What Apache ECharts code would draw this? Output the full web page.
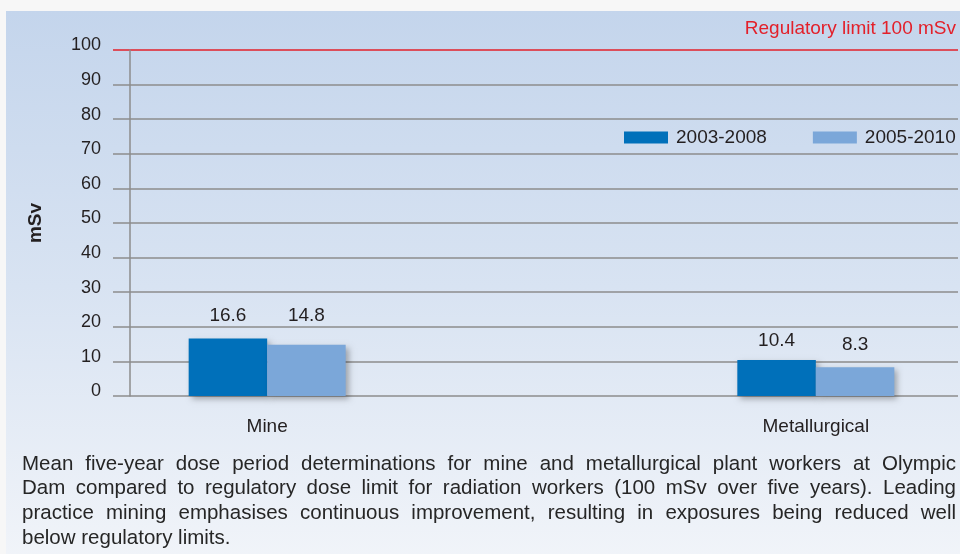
<!DOCTYPE html>
<html><head><meta charset="utf-8">
<script src="https://cdn.jsdelivr.net/npm/echarts@6/dist/echarts.min.js"></script>
<style>html,body{margin:0;padding:0;background:#fff}#c{width:960px;height:554px}</style>
</head><body><div id="c"></div>
<script>
const categories = ['Mine', 'Metallurgical'];
const axisSlots = ['Mine', '', 'Metallurgical'];
const seriesNames = ['2003-2008', '2005-2010'];
const values2003_2008 = [16.6, 10.4];
const values2005_2010 = [14.8, 8.3];
const yTicks = { min: 0, max: 100, interval: 10 };
const regulatoryLimit = 100;
const limitLabel = 'Regulatory limit 100 mSv';
const yAxisName = 'mSv';
const captionLines = [
  'Mean five-year dose period determinations for mine and metallurgical plant workers at Olympic',
  'Dam compared to regulatory dose limit for radiation workers (100 mSv over five years). Leading',
  'practice mining emphasises continuous improvement, resulting in exposures being reduced well',
  'below regulatory limits.'
];

const chart = echarts.init(document.getElementById('c'), null, {renderer: 'canvas'});
const nLines = (yTicks.max - yTicks.min) / yTicks.interval + 1;
const gridColors = [];
for (let i = 0; i < nLines; i++) {
  const v = yTicks.min + i * yTicks.interval;
  gridColors.push(v === regulatoryLimit ? '#e3202a' : '#8d8d8d');
}
const font = 'Liberation Sans, Arial, sans-serif';
const txt = '#231f20';

// label vertical nudges (style only), per series per category
const labelNudge = [[0, 3], [-7, 0]];

function slotData(vals, si) {
  return axisSlots.map(s => {
    const i = categories.indexOf(s);
    if (i < 0) return null;
    return {value: vals[i], label: {offset: [0, labelNudge[si][i]]}};
  });
}

// justified caption
const capFontSize = 20.5;
const capFont = capFontSize + 'px "Liberation Sans"';
const capLeft = 22, capRight = 956, capTop = 464, capLH = 24.8;
const ctx = document.createElement('canvas').getContext('2d');
ctx.font = capFont;
const captionEls = [];
captionLines.forEach((line, li) => {
  const y = capTop + li * capLH;
  const words = line.split(' ');
  const last = li === captionLines.length - 1;
  const widths = words.map(w => ctx.measureText(w).width);
  const spaceW = ctx.measureText(' ').width;
  const total = widths.reduce((a, b) => a + b, 0);
  const gap = last ? spaceW : (capRight - capLeft - total) / (words.length - 1);
  let x = capLeft;
  words.forEach((w, wi) => {
    captionEls.push({type: 'text', x: x, y: y, silent: true,
      style: {text: w, font: capFont, fill: '#262626', verticalAlign: 'middle', align: 'left'}});
    x += widths[wi] + gap;
  });
});

chart.setOption({
  backgroundColor: '#f7f7f7',
  animation: false,
  graphic: [{
    type: 'rect', left: 6, top: 11, z: -10,
    shape: {width: 960, height: 550},
    style: {fill: new echarts.graphic.LinearGradient(0, 0, 0, 1, [
      {offset: 0, color: '#c4d5ec'}, {offset: 0.5, color: '#d8e3f2'}, {offset: 1, color: '#f1f4f9'}])}
  }].concat(captionEls),
  title: [{
    text: limitLabel, right: 4, top: 19, padding: 0,
    textStyle: {color: '#e3202a', fontFamily: font, fontSize: 19, fontWeight: 'normal'}
  }],
  legend: {
    data: seriesNames, left: 624, top: 128, padding: 0, width: 336, orient: 'horizontal',
    icon: 'rect', itemWidth: 44, itemHeight: 12, itemGap: 46,
    textStyle: {color: txt, fontFamily: font, fontSize: 19, padding: [0, 0, 0, 3]}
  },
  grid: [
    {left: 113, right: 2, top: 50, bottom: 158},
    {left: 130, right: 7, top: 50, bottom: 158}
  ],
  xAxis: [
    {gridIndex: 0, type: 'category', data: axisSlots, show: false},
    {gridIndex: 1, type: 'category', data: axisSlots,
     axisLine: {show: false}, axisTick: {show: false},
     axisLabel: {color: txt, fontFamily: font, fontSize: 19, margin: 21}}
  ],
  yAxis: [
    {gridIndex: 0, type: 'value', min: yTicks.min, max: yTicks.max, interval: yTicks.interval,
     offset: -17,
     name: yAxisName, nameLocation: 'middle', nameRotate: 90, nameGap: 85,
     nameTextStyle: {color: txt, fontFamily: font, fontSize: 19, fontWeight: 'bold'},
     axisLine: {show: true, lineStyle: {color: '#8d8d8d', width: 1.5}},
     axisTick: {show: false},
     axisLabel: {color: txt, fontFamily: font, fontSize: 18, margin: 29, verticalAlign: 'bottom', lineHeight: 9},
     splitLine: {show: true, lineStyle: {color: gridColors, width: 1.6}}},
    {gridIndex: 1, type: 'value', min: yTicks.min, max: yTicks.max, interval: yTicks.interval, show: false}
  ],
  series: [
    {name: seriesNames[0], type: 'bar', xAxisIndex: 1, yAxisIndex: 1, data: slotData(values2003_2008, 0),
     barWidth: 78.5, barGap: '0%',
     itemStyle: {color: '#0070ba', shadowBlur: 6, shadowOffsetX: 3, shadowOffsetY: 3, shadowColor: 'rgba(0,0,0,0.3)'},
     label: {show: true, position: 'top', distance: 13, color: txt, fontFamily: font, fontSize: 19}},
    {name: seriesNames[1], type: 'bar', xAxisIndex: 1, yAxisIndex: 1, data: slotData(values2005_2010, 1),
     barWidth: 78.5, barGap: '0%',
     itemStyle: {color: '#7ba7d9', shadowBlur: 6, shadowOffsetX: 3, shadowOffsetY: 3, shadowColor: 'rgba(0,0,0,0.3)'},
     label: {show: true, position: 'top', distance: 13, color: txt, fontFamily: font, fontSize: 19}}
  ]
});
</script></body></html>
